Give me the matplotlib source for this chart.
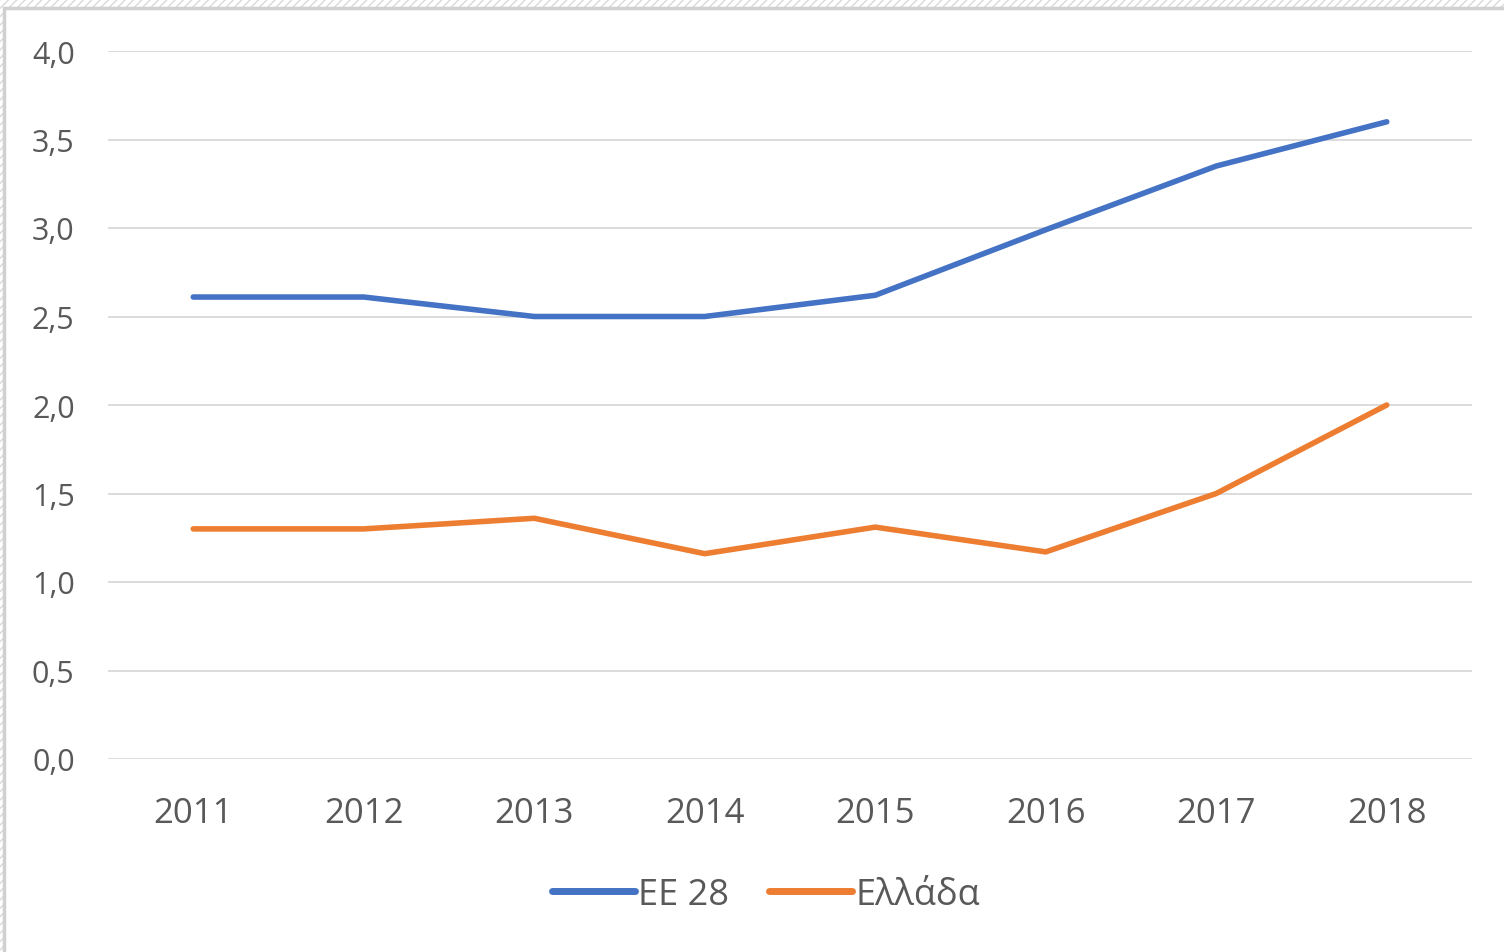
import matplotlib
matplotlib.use("Agg")
import matplotlib.pyplot as plt
from matplotlib.patches import Rectangle

years = ["2011", "2012", "2013", "2014", "2015", "2016", "2017", "2018"]
ee28 = [2.61, 2.61, 2.50, 2.50, 2.62, 2.99, 3.35, 3.60]
greece = [1.30, 1.30, 1.36, 1.16, 1.31, 1.17, 1.50, 2.00]
series_names = ["ΕΕ 28", "Ελλάδα"]
yticks = [0.0, 0.5, 1.0, 1.5, 2.0, 2.5, 3.0, 3.5, 4.0]

plt.rcParams['font.family'] = ['Open Sans', 'DejaVu Sans']
W, H = 1504, 953
fig = plt.figure(figsize=(W/100, H/100), dpi=100)
fig.patch.set_facecolor('white')

# hatched outer area and chart frame
fig.patches.append(Rectangle((0, 0), 1, 1, transform=fig.transFigure,
                             facecolor='white', edgecolor='#d9d9d9', hatch='////',
                             linewidth=0, zorder=-3))
fig.patches.append(Rectangle((4/W, -0.01), 1.0, (H-9)/H + 0.01, transform=fig.transFigure,
                             facecolor='white', edgecolor='#d0d0d0', linewidth=2.5, zorder=-2))

ax = fig.add_axes([108/W, (H-760)/H, (1472-108)/W, (760-52)/H])
x = list(range(len(years)))
c_blue, c_orange = '#4472C4', '#ED7D31'
ax.plot(x, ee28, color=c_blue, linewidth=4, solid_capstyle='round', label=series_names[0], zorder=3)
ax.plot(x, greece, color=c_orange, linewidth=4, solid_capstyle='round', label=series_names[1], zorder=3)

ax.set_xlim(-0.5, len(years) - 0.5)
ax.set_ylim(0, 4.0)
ax.set_yticks(yticks)
ax.set_yticklabels([f"{v:.1f}".replace('.', ',') for v in yticks])
ax.set_xticks(x)
ax.set_xticklabels(years)
ax.grid(axis='y', color='#d9d9d9', linewidth=1.3)
ax.set_axisbelow(True)
for s in ax.spines.values():
    s.set_visible(False)
ax.tick_params(axis='both', length=0, colors='#595959')
ax.tick_params(axis='y', labelsize=22, pad=24)
ax.tick_params(axis='x', labelsize=25, pad=27)
ax.set_facecolor('none')

leg = fig.legend(loc='center', bbox_to_anchor=(766/W, (H-896)/H), ncol=2, frameon=False,
                 fontsize=26, handlelength=2.3, handletextpad=0.1, columnspacing=1.1,
                 labelcolor='#595959')
for l in leg.get_lines():
    l.set_linewidth(5)

fig.savefig('out.png', dpi=100, facecolor=fig.get_facecolor())
